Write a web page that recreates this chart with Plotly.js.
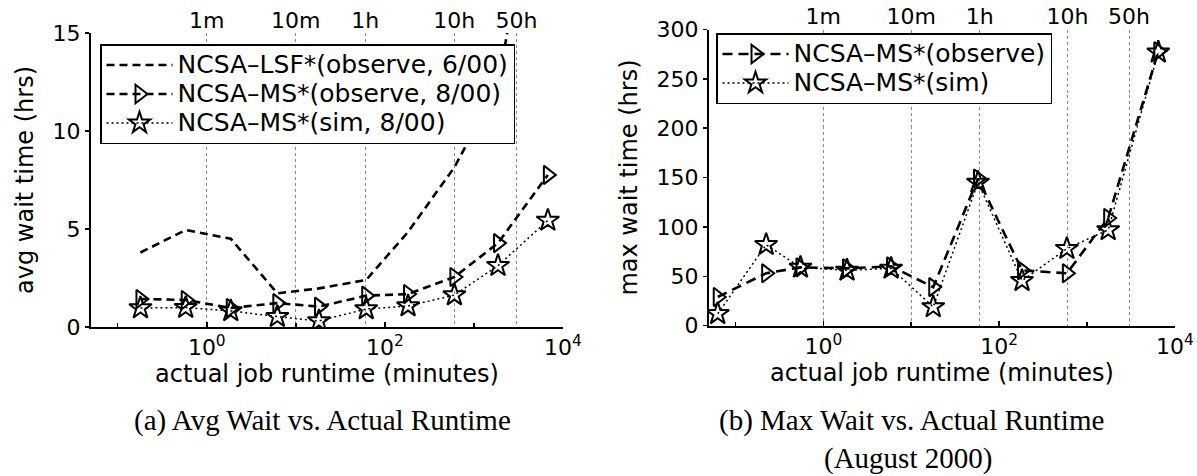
<!DOCTYPE html>
<html>
<head>
<meta charset="utf-8">
<script src="https://cdn.plot.ly/plotly-3.0.1.min.js"></script>
<style>
  html, body { margin: 0; padding: 0; background: #fff; }
  #chart { width: 1197px; height: 476px; }
</style>
</head>
<body>
<div id="chart"></div>
<script>
// ---------- data ----------
// (a) Avg wait vs actual runtime
const runtimeA = [0.18, 0.58, 1.86, 6.2, 18.2, 61.7, 182, 603, 1862, 6761];   // minutes
const avgLSFObserve = [3.8, 4.95, 4.5, 1.72, 1.97, 2.4, 4.85, 8.15, 12.3, 27];
const avgMSObserve  = [1.43, 1.38, 0.97, 1.22, 1.04, 1.6, 1.68, 2.55, 4.28, 7.76];
const avgMSSim      = [0.97, 0.99, 0.82, 0.53, 0.31, 0.92, 1.07, 1.63, 3.13, 5.44];

// (b) Max wait vs actual runtime (August 2000)
const runtimeB = [0.063, 0.224, 0.55, 1.86, 5.9, 17.8, 57.5, 182, 589, 1738, 6457]; // minutes
const maxMSObserve = [29, 53, 59, 58, 60, 39, 149, 56, 53, 109, 278];
const maxMSSim     = [12, 82, 59, 56, 58, 19, 145, 45.5, 78, 97, 277];

// axis ticks
const bottomTickVals = [1, 100, 10000];
const bottomTickText = ['10<sup>0</sup>', '10<sup>2</sup>', '10<sup>4</sup>'];
const bottomMinorVals = [0.1, 10, 1000];
const topTickVals = [1, 10, 60, 600, 3000];
const topTickText = ['1m', '10m', '1h', '10h', '50h'];
const yTicksA = [0, 5, 10, 15];
const yTicksB = [0, 50, 100, 150, 200, 250, 300];

const namesA = ['NCSA–LSF*(observe, 6/00)', 'NCSA–MS*(observe, 8/00)', 'NCSA–MS*(sim, 8/00)'];
const namesB = ['NCSA–MS*(observe)', 'NCSA–MS*(sim)'];
const captionA = '(a) Avg Wait vs. Actual Runtime';
const captionB1 = '(b) Max Wait vs. Actual Runtime';
const captionB2 = '(August 2000)';

// ---------- styling ----------
const W = 1197, H = 476;
const SANS = 'DejaVu Sans, Arial, sans-serif';
const SERIF = 'Liberation Serif, Times New Roman, serif';
const tickFont = {family: SANS, size: 22, color: '#000'};
const titleFont = {family: SANS, size: 24, color: '#000'};
// legend rows are spaced by the base font size; the visible text is a bit larger
const legendFont = {family: SANS, size: 20, color: '#000'};
const legendTextSize = 25;
const legendName = (s) => '<span style="font-size:' + legendTextSize + 'px">' + s + '</span>';

const triMarker = {symbol: 'triangle-right-open', size: 16, color: '#000', line: {width: 2, color: '#000'}};
const starMarker = {symbol: 'star-open', size: 17, color: '#000', line: {width: 2, color: '#000'}};

const traces = [
  {x: runtimeA, y: avgLSFObserve, name: legendName(namesA[0]), mode: 'lines', xaxis: 'x', yaxis: 'y', legend: 'legend',
   line: {color: '#000', width: 2.6, dash: '8px,5px'}},
  {x: runtimeA, y: avgMSObserve, name: legendName(namesA[1]), mode: 'lines+markers', xaxis: 'x', yaxis: 'y', legend: 'legend',
   line: {color: '#000', width: 2.6, dash: '8px,5px'}, marker: triMarker},
  {x: runtimeA, y: avgMSSim, name: legendName(namesA[2]), mode: 'lines+markers', xaxis: 'x', yaxis: 'y', legend: 'legend',
   line: {color: '#000', width: 1.5, dash: '2px,3px'}, marker: starMarker},
  // top (hour/minute) axis helper for (a)
  {x: topTickVals, y: topTickVals.map(() => null), xaxis: 'x3', yaxis: 'y', showlegend: false, hoverinfo: 'skip', mode: 'lines'},

  {x: runtimeB, y: maxMSObserve, name: legendName(namesB[0]), mode: 'lines+markers', xaxis: 'x2', yaxis: 'y2', legend: 'legend2',
   line: {color: '#000', width: 2.6, dash: '10px,6px'}, marker: triMarker},
  {x: runtimeB, y: maxMSSim, name: legendName(namesB[1]), mode: 'lines+markers', xaxis: 'x2', yaxis: 'y2', legend: 'legend2',
   line: {color: '#000', width: 1.5, dash: '2px,3px'}, marker: starMarker},
  {x: topTickVals, y: topTickVals.map(() => null), xaxis: 'x4', yaxis: 'y2', showlegend: false, hoverinfo: 'skip', mode: 'lines'}
];

function bottomAxis(domain, anchor) {
  return {
    type: 'log', domain: domain, anchor: anchor, range: [-1.3, 4],
    showline: true, linecolor: '#000', linewidth: 2,
    showgrid: false, zeroline: false,
    ticks: 'inside', ticklen: 5, tickwidth: 1.5, tickcolor: '#000',
    tickmode: 'array', tickvals: bottomTickVals, ticktext: bottomTickText, tickfont: tickFont,
    minor: {tickmode: 'array', tickvals: bottomMinorVals, ticks: 'inside', ticklen: 4, tickwidth: 1.5, tickcolor: '#000', showgrid: false},
    title: {text: 'actual job runtime (minutes)', font: titleFont, standoff: 0}
  };
}
function topAxis(over, anchor) {
  return {
    type: 'log', overlaying: over, anchor: anchor, side: 'top', range: [-1.3, 4],
    showline: false, zeroline: false, ticks: '',
    showgrid: true, gridcolor: '#888', gridwidth: 1, griddash: 'dot',
    tickmode: 'array', tickvals: topTickVals, ticktext: topTickText, tickfont: tickFont
  };
}
function leftAxis(domain, anchor, range, vals, title) {
  return {
    domain: domain, anchor: anchor, range: range,
    showline: true, linecolor: '#000', linewidth: 2,
    showgrid: false, zeroline: false,
    ticks: 'outside', ticklen: 4, tickwidth: 1.5, tickcolor: '#000',
    tickmode: 'array', tickvals: vals, tickfont: tickFont,
    title: {text: title, font: titleFont, standoff: 12}
  };
}

const layout = {
  width: W, height: H,
  margin: {l: 0, r: 0, t: 0, b: 0},
  paper_bgcolor: '#fff', plot_bgcolor: '#fff',
  font: {family: SANS, color: '#000'},
  showlegend: true,
  xaxis: bottomAxis([91 / W, 563 / W], 'y'),
  yaxis: leftAxis([1 - 327 / H, 1 - 33 / H], 'x', [0, 15], yTicksA, 'avg wait time (hrs)'),
  xaxis3: topAxis('x', 'y'),
  xaxis2: bottomAxis([709 / W, 1175 / W], 'y2'),
  yaxis2: leftAxis([1 - 325.6 / H, 1 - 29.5 / H], 'x2', [0, 300], yTicksB, 'max wait time (hrs)'),
  xaxis4: topAxis('x2', 'y2'),
  legend: {
    x: 100 / W, y: 1 - 44 / H, xanchor: 'left', yanchor: 'top',
    bgcolor: '#fff', bordercolor: '#000', borderwidth: 1.5,
    font: legendFont, itemwidth: 66, tracegroupgap: 0
  },
  legend2: {
    x: 716 / W, y: 1 - 33 / H, xanchor: 'left', yanchor: 'top',
    bgcolor: '#fff', bordercolor: '#000', borderwidth: 1.5,
    font: legendFont, itemwidth: 66, tracegroupgap: 0
  },
  annotations: [
    {text: captionA, xref: 'paper', yref: 'paper', x: 322 / W, y: 1 - 420 / H, xanchor: 'center', yanchor: 'middle',
     showarrow: false, font: {family: SERIF, size: 29, color: '#000'}},
    {text: captionB1, xref: 'paper', yref: 'paper', x: 911 / W, y: 1 - 420 / H, xanchor: 'center', yanchor: 'middle',
     showarrow: false, font: {family: SERIF, size: 29, color: '#000'}},
    {text: captionB2, xref: 'paper', yref: 'paper', x: 908 / W, y: 1 - 458 / H, xanchor: 'center', yanchor: 'middle',
     showarrow: false, font: {family: SERIF, size: 29, color: '#000'}}
  ]
};

Plotly.newPlot('chart', traces, layout, {staticPlot: true, displayModeBar: false});
</script>
</body>
</html>
